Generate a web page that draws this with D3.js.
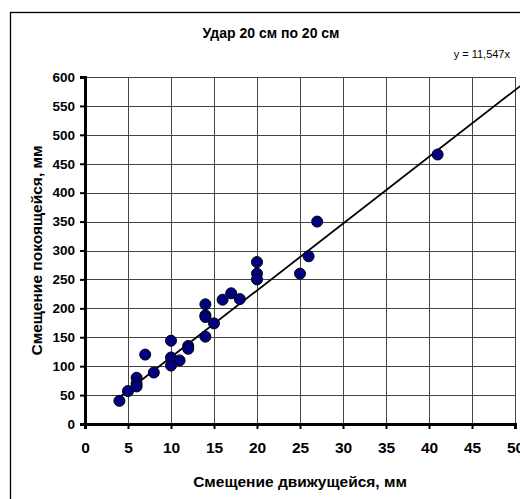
<!DOCTYPE html>
<html>
<head>
<meta charset="utf-8">
<script src="https://cdn.jsdelivr.net/npm/d3@7"></script>
<style>
  body { margin: 0; background: #fff; }
  svg { display: block; font-family: "Liberation Sans", Arial, sans-serif; }
</style>
</head>
<body>
<svg id="chart" width="520" height="499"></svg>
<script>
// Data
const moving = [4, 5, 6, 6, 6, 7, 8, 10, 10, 10, 11, 12, 12, 14, 14, 14, 14, 15, 16, 17, 18, 20, 20, 20, 25, 26, 27, 41];
const resting = [40, 57, 80, 70, 65, 120, 89, 144, 115, 101, 110, 135, 130, 207, 188, 185, 151, 174, 215, 226, 216, 280, 260, 250, 260, 290, 350, 466];
const slope = 11.547;
const xTicks = [0, 5, 10, 15, 20, 25, 30, 35, 40, 45, 50];
const yTicks = [0, 50, 100, 150, 200, 250, 300, 350, 400, 450, 500, 550, 600];

const svg = d3.select('#chart');

// Plot area
const plotLeft = 85, plotRight = 515, plotTop = 77, plotBottom = 424;

const x = d3.scaleLinear().domain([0, 50]).range([plotLeft, plotRight]);
const y = d3.scaleLinear().domain([0, 600]).range([plotBottom, plotTop]);

// Chart border
svg.append('rect')
  .attr('x', 10.5).attr('y', 12.5)
  .attr('width', 530).attr('height', 500)
  .attr('fill', 'none')
  .attr('stroke', '#000')
  .attr('stroke-width', 1.3);

// Gridlines
svg.append('g')
  .selectAll('line')
  .data(xTicks.slice(1))
  .join('line')
  .attr('x1', d => Math.round(x(d)) + 0.5).attr('x2', d => Math.round(x(d)) + 0.5)
  .attr('y1', plotTop).attr('y2', plotBottom)
  .attr('stroke', '#444').attr('stroke-width', 1);

svg.append('g')
  .selectAll('line')
  .data(yTicks.slice(1))
  .join('line')
  .attr('x1', plotLeft).attr('x2', plotRight)
  .attr('y1', d => Math.round(y(d)) + 0.5).attr('y2', d => Math.round(y(d)) + 0.5)
  .attr('stroke', '#444').attr('stroke-width', 1);

// Axes
const xAxis = svg.append('g')
  .attr('transform', `translate(0,${plotBottom})`)
  .call(d3.axisBottom(x).tickValues(xTicks).tickSize(5).tickPadding(13));
const yAxis = svg.append('g')
  .attr('transform', `translate(${plotLeft},0)`)
  .call(d3.axisLeft(y).tickValues(yTicks).tickSize(5).tickPadding(5));

[xAxis, yAxis].forEach(g => {
  g.select('.domain').attr('stroke', '#000').attr('stroke-width', 3);
  g.selectAll('.tick line').attr('stroke', '#000').attr('stroke-width', 2);
  g.selectAll('.tick text')
    .attr('fill', '#000')
    .style('font-family', '"Liberation Sans", Arial, sans-serif')
    .style('font-weight', 'bold');
});
xAxis.selectAll('.tick text').style('font-size', '15.5px');
yAxis.selectAll('.tick text').style('font-size', '13.5px');

// Trendline
const line = d3.line().x(d => x(d)).y(d => y(slope * d));
svg.append('path')
  .datum([d3.min(moving) - 0.3, 50.6])
  .attr('d', line)
  .attr('fill', 'none')
  .attr('stroke', '#000')
  .attr('stroke-width', 1.8);

// Points
svg.append('g')
  .selectAll('circle')
  .data(moving.map((d, i) => [d, resting[i]]))
  .join('circle')
  .attr('cx', d => x(d[0]))
  .attr('cy', d => y(d[1]))
  .attr('r', 5.5)
  .attr('fill', '#000080')
  .attr('stroke', '#000')
  .attr('stroke-width', 1);

// Texts
svg.append('text')
  .attr('x', 271).attr('y', 38)
  .attr('text-anchor', 'middle')
  .style('font-size', '14px').style('font-weight', 'bold')
  .text('Удар 20 см по 20 см');

svg.append('text')
  .attr('x', 510).attr('y', 58)
  .attr('text-anchor', 'end')
  .style('font-size', '11px')
  .text('y = 11,547x');

svg.append('text')
  .attr('x', 300).attr('y', 487)
  .attr('text-anchor', 'middle')
  .style('font-size', '15.5px').style('font-weight', 'bold')
  .text('Смещение движущейся, мм');

svg.append('text')
  .attr('transform', `translate(42,${(plotTop + plotBottom) / 2}) rotate(-90)`)
  .attr('text-anchor', 'middle')
  .style('font-size', '15.5px').style('font-weight', 'bold')
  .text('Смещение покоящейся, мм');
</script>
</body>
</html>
